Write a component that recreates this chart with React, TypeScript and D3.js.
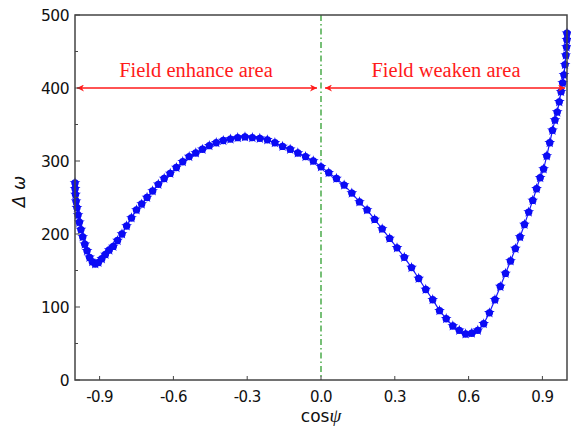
import * as d3 from "d3";
import { useEffect, useRef } from "react";

// cos(psi) sample positions
const cosPsi = [
  -1, -0.9995, -0.998, -0.9956, -0.9921, -0.9877, -0.9823, -0.9759, -0.9686, -0.9603,
  -0.9511, -0.9409, -0.9298, -0.9178, -0.9048, -0.891, -0.8763, -0.8607, -0.8443, -0.8271,
  -0.809, -0.7902, -0.7705, -0.7501, -0.729, -0.7071, -0.6845, -0.6613, -0.6374, -0.6129,
  -0.5878, -0.5621, -0.5358, -0.509, -0.4818, -0.454, -0.4258, -0.3971, -0.3681, -0.3387,
  -0.309, -0.279, -0.2487, -0.2181, -0.1874, -0.1564, -0.1253, -0.0941, -0.0628, -0.0314,
  0, 0.0314, 0.0628, 0.0941, 0.1253, 0.1564, 0.1874, 0.2181, 0.2487, 0.279,
  0.309, 0.3387, 0.3681, 0.3971, 0.4258, 0.454, 0.4818, 0.509, 0.5358, 0.5621,
  0.5878, 0.6129, 0.6374, 0.6613, 0.6845, 0.7071, 0.729, 0.7501, 0.7705, 0.7902,
  0.809, 0.8271, 0.8443, 0.8607, 0.8763, 0.891, 0.9048, 0.9178, 0.9298, 0.9409,
  0.9511, 0.9603, 0.9686, 0.9759, 0.9823, 0.9877, 0.9921, 0.9956, 0.998, 0.9995, 1,
];

// delta omega values
const deltaOmega = [
  270, 262, 254, 245, 236, 226, 216, 206, 196, 186,
  177, 168, 162, 159, 161, 166, 172, 178, 183, 191,
  200, 211, 222, 233, 241, 250, 259, 268, 276, 283,
  291, 299, 306, 311, 316, 321, 325, 328, 330, 332,
  333, 332, 331, 329, 325, 320, 316, 311, 306, 300,
  292, 284, 276, 267, 256, 244, 233, 220, 207, 194,
  181, 168, 154, 139, 124, 110, 95, 84, 74, 68,
  63, 64, 68, 77, 92, 110, 128, 146, 163, 180,
  196, 213, 230, 246, 262, 277, 289, 307, 325, 342,
  356, 367, 381, 395, 407, 418, 432, 445, 456, 466, 475,
];

const xTicks = [-0.9, -0.6, -0.3, 0, 0.3, 0.6, 0.9];
const yTicks = [0, 100, 200, 300, 400, 500];
const yMinorTicks = [50, 150, 250, 350, 450];

const regions = [
  { label: "Field enhance area", from: -1, to: 0 },
  { label: "Field weaken area", from: 0, to: 1 },
];
const regionLevel = 400;

const W = 571;
const H = 429;

const Chart = () => {
  const svgRef = useRef(null);

  useEffect(() => {
    const margin = { top: 15, right: 4, bottom: 49, left: 75 };
    const svg = d3.select(svgRef.current);
    svg.selectAll("*").remove();
    svg.attr("width", W).attr("height", H);

    const x = d3.scaleLinear().domain([-1, 1]).range([margin.left, W - margin.right]);
    const y = d3.scaleLinear().domain([0, 500]).range([H - margin.bottom, margin.top]);

    const defs = svg.append("defs");
    ["arrowEnd", "arrowStart"].forEach((id) => {
      defs
        .append("marker")
        .attr("id", id)
        .attr("viewBox", "0 0 10 10")
        .attr("refX", 10)
        .attr("refY", 5)
        .attr("markerWidth", 11)
        .attr("markerHeight", 7)
        .attr("markerUnits", "userSpaceOnUse")
        .attr("orient", id === "arrowEnd" ? "auto" : "auto-start-reverse")
        .append("path")
        .attr("d", "M0,0 L10,5 L0,10 L3,5 Z")
        .attr("fill", "#ff1a1a");
    });

    const data = cosPsi.map((c, i) => ({ c, v: deltaOmega[i] }));

    // green dash-dot divider at cos psi = 0
    svg
      .append("line")
      .attr("x1", x(0))
      .attr("x2", x(0))
      .attr("y1", y(500))
      .attr("y2", y(0))
      .attr("stroke", "#2e9e2e")
      .attr("stroke-width", 1.3)
      .attr("stroke-dasharray", "6,3,1.5,3");

    // curve
    const line = d3
      .line()
      .x((d) => x(d.c))
      .y((d) => y(d.v));
    svg
      .append("path")
      .datum(data)
      .attr("d", line)
      .attr("fill", "none")
      .attr("stroke", "#1a1aff")
      .attr("stroke-width", 1.2);

    const star = d3.symbol().type(d3.symbolStar).size(36);
    const dots = svg
      .selectAll(".dot")
      .data(data)
      .enter()
      .append("g")
      .attr("class", "dot")
      .attr("transform", (d) => `translate(${x(d.c)},${y(d.v)})`)
      .attr("fill", "#0b0bf5");
    dots.append("circle").attr("r", 3.7);
    dots.append("path").attr("d", star);

    // region arrows and labels
    regions.forEach((r) => {
      const x1 = x(r.from) + (r.from === 0 ? 4 : 2);
      const x2 = x(r.to) - (r.to === 0 ? 4 : 2);
      svg
        .append("line")
        .attr("x1", x1)
        .attr("x2", x2)
        .attr("y1", y(regionLevel))
        .attr("y2", y(regionLevel))
        .attr("stroke", "#ff1a1a")
        .attr("stroke-width", 1.5)
        .attr("marker-start", "url(#arrowStart)")
        .attr("marker-end", "url(#arrowEnd)");
      svg
        .append("text")
        .attr("x", (x(r.from) + x(r.to)) / 2 + (r.from === 0 ? 2 : -2))
        .attr("y", y(regionLevel) - 11)
        .attr("text-anchor", "middle")
        .attr("fill", "#ff1a1a")
        .attr("font-family", "Liberation Serif, Times New Roman, serif")
        .attr("font-size", "20.5px")
        .text(r.label);
    });

    // frame
    svg
      .append("rect")
      .attr("x", margin.left)
      .attr("y", margin.top)
      .attr("width", W - margin.left - margin.right)
      .attr("height", H - margin.top - margin.bottom)
      .attr("fill", "none")
      .attr("stroke", "#444")
      .attr("stroke-width", 1.5);

    // ticks (inward)
    svg
      .selectAll(".xtick")
      .data(xTicks)
      .enter()
      .append("line")
      .attr("x1", (d) => x(d))
      .attr("x2", (d) => x(d))
      .attr("y1", y(0))
      .attr("y2", y(0) - 4)
      .attr("stroke", "#444");
    svg
      .selectAll(".ytick")
      .data(yTicks.concat(yMinorTicks))
      .enter()
      .append("line")
      .attr("x1", margin.left)
      .attr("x2", (d) => margin.left + (d % 100 === 0 ? 5 : 3))
      .attr("y1", (d) => y(d))
      .attr("y2", (d) => y(d))
      .attr("stroke", "#444");

    const font = "DejaVu Sans, Verdana, sans-serif";
    svg
      .selectAll(".xlabel")
      .data(xTicks)
      .enter()
      .append("text")
      .attr("x", (d) => x(d))
      .attr("y", y(0) + 22)
      .attr("text-anchor", "middle")
      .attr("font-family", font)
      .attr("font-size", "15px")
      .attr("letter-spacing", "-0.6px")
      .attr("fill", "#111")
      .text((d) => d.toFixed(1));
    svg
      .selectAll(".ylabel")
      .data(yTicks)
      .enter()
      .append("text")
      .attr("x", margin.left - 6)
      .attr("y", (d) => y(d) + 6)
      .attr("text-anchor", "end")
      .attr("font-family", font)
      .attr("font-size", "15.5px")
      .attr("letter-spacing", "-0.5px")
      .attr("fill", "#111")
      .text((d) => d);

    // axis titles
    const xt = svg
      .append("text")
      .attr("x", x(0))
      .attr("y", H - 7)
      .attr("text-anchor", "middle")
      .attr("font-family", font)
      .attr("font-size", "17px")
      .attr("fill", "#111");
    xt.append("tspan").text("cos");
    xt.append("tspan").attr("font-style", "italic").attr("font-family", "Liberation Serif, serif").attr("font-size", "19px").text("ψ");

    svg
      .append("text")
      .attr("transform", `translate(25,${y(250) - 6}) rotate(-90)`)
      .attr("text-anchor", "middle")
      .attr("font-family", font)
      .attr("font-size", "17px")
      .attr("font-style", "italic")
      .attr("fill", "#111")
      .text("Δ ω");
  }, []);

  return <svg ref={svgRef} style={{ position: "absolute", left: 0, top: 0 }}></svg>;
};

export default function App() {
  return <Chart />;
}
